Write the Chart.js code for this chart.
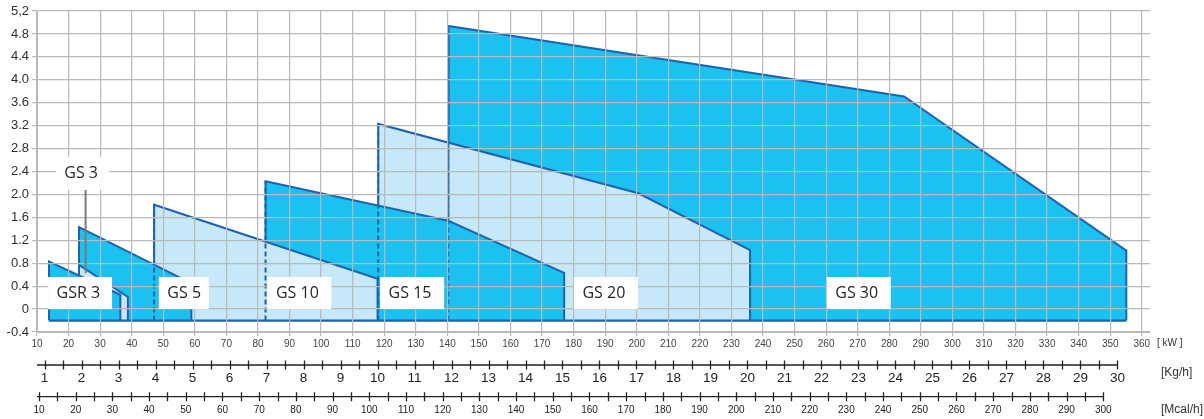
<!DOCTYPE html>
<html>
<head>
<meta charset="utf-8">
<script src="https://cdn.jsdelivr.net/npm/chart.js@4.4.1/dist/chart.umd.min.js"></script>
<style>
  html, body { margin: 0; padding: 0; background: #fff; }
  #wrap { width: 1204px; height: 419px; }
</style>
</head>
<body>
<div id="wrap"><canvas id="gsChart"></canvas></div>
<script>
// working ranges, x in kW, first and last point sit on the base line
const gsr3X = [13.8, 13.8, 36.4, 36.4];
const gsr3Y = [-0.2, 0.83, 0.25, -0.2];
const gs3X = [23.3, 23.3, 38.8, 38.8];
const gs3Y = [-0.2, 0.77, 0.21, -0.2];
const gs5X = [23.3, 23.3, 58.9, 58.9];
const gs5Y = [-0.2, 1.43, 0.45, -0.2];
const gs10X = [47.1, 47.1, 117.9, 117.9];
const gs10Y = [-0.2, 1.82, 0.53, -0.2];
const gs15X = [82.4, 82.4, 140.3, 177.0, 177.0];
const gs15Y = [-0.2, 2.23, 1.54, 0.63, -0.2];
const gs20X = [118.1, 118.1, 200.5, 235.9, 235.9];
const gs20Y = [-0.2, 3.23, 2.02, 1.03, -0.2];
const gs30X = [140.3, 140.3, 284.7, 355.1, 355.1];
const gs30Y = [-0.2, 4.94, 3.71, 1.02, -0.2];

// axis ticks
const kwTicks = [10, 20, 30, 40, 50, 60, 70, 80, 90, 100, 110, 120, 130, 140, 150, 160, 170, 180,
  190, 200, 210, 220, 230, 240, 250, 260, 270, 280, 290, 300, 310, 320, 330, 340, 350, 360];
const yTicks = [-0.4, 0, 0.4, 0.8, 1.2, 1.6, 2.0, 2.4, 2.8, 3.2, 3.6, 4.0, 4.4, 4.8, 5.2];
const yLabels = ['-0.4', '0', '0.4', '0.8', '1.2', '1.6', '2.0', '2.4', '2.8', '3.2', '3.6', '4.0', '4.4', '4.8', '5,2'];
const kgTicks = [1, 2, 3, 4, 5, 6, 7, 8, 9, 10, 11, 12, 13, 14, 15, 16, 17, 18, 19, 20,
  21, 22, 23, 24, 25, 26, 27, 28, 29, 30];
const mcalTicks = [10, 20, 30, 40, 50, 60, 70, 80, 90, 100, 110, 120, 130, 140, 150, 160, 170, 180,
  190, 200, 210, 220, 230, 240, 250, 260, 270, 280, 290, 300];

const edgeColor = '#1f63ad';
const darkFill = '#1bc1f1';
const lightFill = '#c6e8f8';
const gridColor = '#b9b9b9';

function pts(xs, ys) {
    return xs.map(function (x, i) { return { x: x, y: ys[i] }; });
}

function area(name, xs, ys, fillColor) {
    return {
        label: name,
        data: pts(xs, ys),
        borderColor: edgeColor,
        borderWidth: 2,
        backgroundColor: fillColor,
        fill: { value: ys[0] },
        pointRadius: 0
    };
}

// left edge of a range, drawn over whatever covers it
function leftEdge(xs, ys, dashed) {
    return {
        label: 'edge',
        data: pts(xs.slice(0, 2), ys.slice(0, 2)),
        borderColor: edgeColor,
        borderWidth: 2,
        borderDash: dashed ? [5, 3] : [],
        fill: false,
        pointRadius: 0
    };
}

const datasets = [
    {
        label: 'base',
        data: [{ x: gsr3X[0], y: gsr3Y[0] }, { x: gs30X[gs30X.length - 1], y: gs30Y[gs30Y.length - 1] }],
        borderColor: edgeColor, borderWidth: 2.2, fill: false, pointRadius: 0
    },
    {
        label: 'gs30 edge',
        data: [{ x: gs30X[1], y: gs15Y[2] }, { x: gs30X[1], y: gs30Y[1] }],
        borderColor: edgeColor, borderWidth: 2, fill: false, pointRadius: 0
    },
    leftEdge(gs30X, gs30Y, true),
    leftEdge(gs20X, gs20Y, true),
    leftEdge(gs15X, gs15Y, true),
    leftEdge(gs10X, gs10Y, true),
    area('GSR 3', gsr3X, gsr3Y, darkFill),
    area('GS 3', gs3X, gs3Y, lightFill),
    area('GS 5', gs5X, gs5Y, darkFill),
    area('GS 10', gs10X, gs10Y, lightFill),
    area('GS 15', gs15X, gs15Y, darkFill),
    area('GS 20', gs20X, gs20Y, lightFill),
    area('GS 30', gs30X, gs30Y, darkFill)
];

// name tags (left edge in kW, box from 0 to 0.56)
const tags = [
    { text: 'GSR 3', kw: 13.5, w: 64 },
    { text: 'GS 5', kw: 48.6, w: 50 },
    { text: 'GS 10', kw: 83.0, w: 64 },
    { text: 'GS 15', kw: 118.7, w: 64 },
    { text: 'GS 20', kw: 180.1, w: 64 },
    { text: 'GS 30', kw: 260.2, w: 64 }
];

function ruler(ctx, chart, scale, ticks, minor, y, fontSize, labelDy) {
    const end = scale.getPixelForValue(ticks[ticks.length - 1]);
    ctx.strokeStyle = '#222';
    ctx.lineWidth = 1.3;
    ctx.beginPath();
    ctx.moveTo(chart.chartArea.left, y);
    ctx.lineTo(end, y);
    for (let v = ticks[0]; v <= ticks[ticks.length - 1] + 1e-6; v += minor) {
        const px = Math.round(scale.getPixelForValue(v)) + 0.5;
        ctx.moveTo(px, y - 4.5);
        ctx.lineTo(px, y + 4.5);
    }
    ctx.stroke();
    ctx.fillStyle = '#222';
    ctx.font = fontSize + 'px "Liberation Sans", Arial, sans-serif';
    ctx.textAlign = 'center';
    ctx.textBaseline = 'middle';
    ticks.forEach(function (v) {
        ctx.fillText(String(v), scale.getPixelForValue(v), y + labelDy);
    });
}

const overlay = {
    id: 'overlay',
    afterDraw: function (chart) {
        const ctx = chart.ctx;
        const sx = chart.scales.x;
        const sy = chart.scales.y;
        ctx.save();

        // GS 3 pointer and tag
        const px = sx.getPixelForValue(25.4);
        ctx.strokeStyle = '#7a7a7a';
        ctx.lineWidth = 2;
        ctx.beginPath();
        ctx.moveTo(px, sy.getPixelForValue(2.08));
        ctx.lineTo(px, sy.getPixelForValue(0.63));
        ctx.stroke();

        ctx.font = '16px "Open Sans", sans-serif';
        ctx.textBaseline = 'middle';
        ctx.textAlign = 'left';

        const g3l = sx.getPixelForValue(16.1);
        const g3t = sy.getPixelForValue(2.66);
        const g3b = sy.getPixelForValue(2.08);
        ctx.fillStyle = '#fff';
        ctx.fillRect(g3l, g3t, 53, g3b - g3t);
        ctx.fillStyle = '#262626';
        ctx.fillText('GS 3', g3l + 8, (g3t + g3b) / 2 + 0.5);

        const top = sy.getPixelForValue(0.56);
        const bot = sy.getPixelForValue(0);
        tags.forEach(function (t) {
            const l = sx.getPixelForValue(t.kw);
            ctx.fillStyle = '#fff';
            ctx.fillRect(l, top, t.w, bot - top);
            ctx.fillStyle = '#262626';
            ctx.fillText(t.text, l + 8.5, (top + bot) / 2 + 0.5);
        });

        // kg/h and Mcal/h rulers
        ruler(ctx, chart, chart.scales.kg, kgTicks, 0.5, 365, 13.5, 13.5);
        ruler(ctx, chart, chart.scales.mcal, mcalTicks, 5, 396.7, 10, 14);

        ctx.textAlign = 'left';
        ctx.fillStyle = '#333';
        ctx.font = '10px "Liberation Sans", Arial, sans-serif';
        ctx.fillText('[ kW ]', 1157, 343);
        ctx.font = '12px "Liberation Sans", Arial, sans-serif';
        ctx.fillText('[Kg/h]', 1161, 373);
        ctx.fillText('[Mcal/h]', 1161, 410);
        ctx.restore();
    }
};

Chart.defaults.font.family = '"Liberation Sans", Arial, sans-serif';

new Chart(document.getElementById('gsChart'), {
    type: 'line',
    data: { datasets: datasets },
    options: {
        responsive: true,
        maintainAspectRatio: false,
        animation: false,
        layout: { padding: { top: 11, right: 54, bottom: 67, left: 0 } },
        plugins: { legend: { display: false }, tooltip: { enabled: false } },
        elements: { line: { tension: 0 } },
        scales: {
            x: {
                type: 'linear',
                min: 10,
                max: 362.6,
                afterBuildTicks: function (s) { s.ticks = kwTicks.map(function (v) { return { value: v }; }); },
                afterFit: function (s) { s.height = 20; },
                grid: { color: gridColor, lineWidth: 1.2, z: 1, tickLength: 4 },
                border: { color: gridColor, z: 1 },
                ticks: { autoSkip: false, maxRotation: 0, padding: 2, color: '#444', font: { size: 10 } }
            },
            y: {
                min: -0.4,
                max: 5.2,
                afterBuildTicks: function (s) { s.ticks = yTicks.map(function (v) { return { value: v }; }); },
                afterFit: function (s) { s.width = 37; },
                grid: { color: gridColor, lineWidth: 1.2, z: 1, tickLength: 5 },
                border: { color: gridColor, z: 1 },
                ticks: {
                    padding: 3, color: '#2e2e2e', font: { size: 13 },
                    callback: function (v, i) { return yLabels[i]; }
                }
            },
            kg: { type: 'linear', position: 'bottom', display: false, min: 0.796, max: 30.88 },
            mcal: { type: 'linear', position: 'bottom', display: false, min: 9.455, max: 312.73 }
        }
    },
    plugins: [overlay]
});
</script>
</body>
</html>
